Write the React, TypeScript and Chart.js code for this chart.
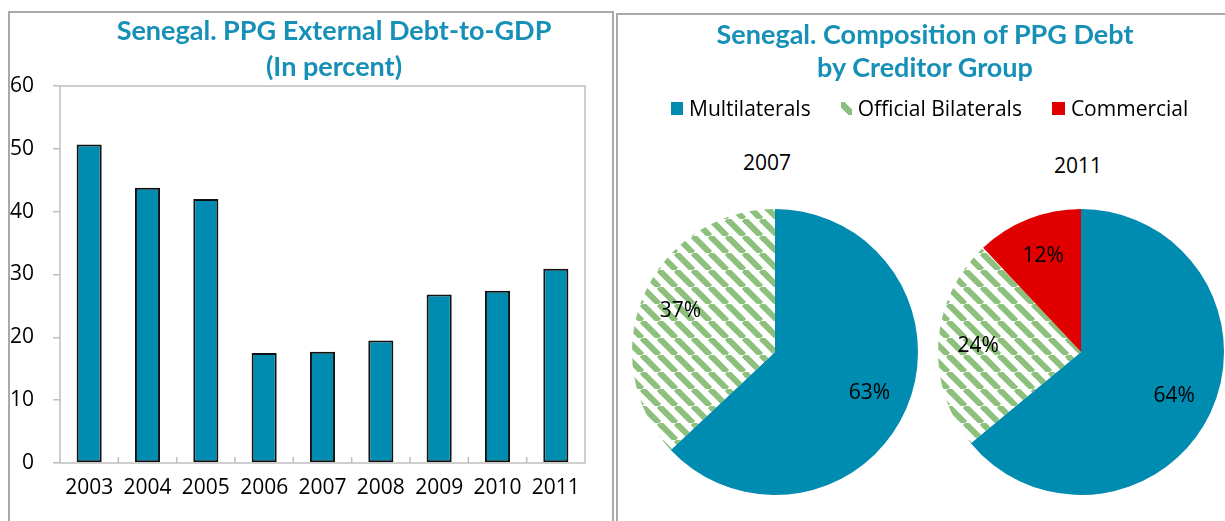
import React, { useEffect, useRef } from "react";
import { Chart, registerables } from "chart.js";

Chart.register(...registerables);

// ---- data ----
const years = ["2003", "2004", "2005", "2006", "2007", "2008", "2009", "2010", "2011"];
const debtToGdp = [50.7, 43.8, 42.0, 17.5, 17.7, 19.5, 26.8, 27.4, 30.9];
const yTickValues = [0, 10, 20, 30, 40, 50, 60];
const creditorGroups = ["Multilaterals", "Official Bilaterals", "Commercial"];
const pieYears = ["2007", "2011"];
const share2007 = [63, 37, 0];
const share2011 = [64, 24, 12];

const TEAL = "#008bb0";
const GREEN = "#8cc07c";
const RED = "#e00000";
const TITLE = "#1690b6";
const FONT = '"Open Sans", "Noto Sans", sans-serif';
const TITLE_FONT = 'Lato, "Open Sans", sans-serif';

function makeStripePattern(): CanvasPattern | string {
  const P = 17;
  const c = document.createElement("canvas");
  c.width = P;
  c.height = P;
  const g = c.getContext("2d");
  if (!g) return GREEN;
  g.fillStyle = "#ffffff";
  g.fillRect(0, 0, P, P);
  g.strokeStyle = GREEN;
  g.lineWidth = 6;
  for (let k = -1; k <= 1; k++) {
    g.beginPath();
    g.moveTo(k * P, 0);
    g.lineTo(k * P + P, P);
    g.stroke();
  }
  const pat = g.createPattern(c, "repeat");
  return pat || GREEN;
}

const framePlugin = {
  id: "plotFrame",
  afterDatasetsDraw(chart: any) {
    const { ctx, chartArea: a, scales } = chart;
    const x = scales.x;
    ctx.save();
    ctx.strokeStyle = "#bfbfbf";
    ctx.lineWidth = 1.5;
    ctx.strokeRect(a.left, a.top, a.right - a.left, a.bottom - a.top);
    const n = chart.data.labels.length;
    ctx.beginPath();
    for (let i = 1; i < n; i++) {
      const px = (x.getPixelForValue(i - 1) + x.getPixelForValue(i)) / 2;
      ctx.moveTo(px, a.bottom);
      ctx.lineTo(px, a.bottom - 6);
    }
    ctx.stroke();
    ctx.restore();
  },
};

const pctPlugin = {
  id: "pctLabels",
  afterDatasetsDraw(chart: any) {
    const { ctx } = chart;
    const meta = chart.getDatasetMeta(0);
    const data = chart.data.datasets[0].data as number[];
    ctx.save();
    ctx.font = `21px ${FONT}`;
    ctx.fillStyle = "#000";
    ctx.textAlign = "center";
    ctx.textBaseline = "middle";
    meta.data.forEach((arc: any, i: number) => {
      const v = data[i];
      if (!v) return;
      const p = arc.getProps(["x", "y", "startAngle", "endAngle", "outerRadius"], true);
      const mid = (p.startAngle + p.endAngle) / 2;
      const r = p.outerRadius * 0.72;
      ctx.fillText(`${v}%`, p.x + Math.cos(mid) * r, p.y + Math.sin(mid) * r);
    });
    ctx.restore();
  },
};

function BarChart() {
  const ref = useRef<HTMLCanvasElement>(null);
  useEffect(() => {
    if (!ref.current) return;
    const chart = new Chart(ref.current, {
      type: "bar",
      data: {
        labels: years,
        datasets: [
          {
            data: debtToGdp,
            backgroundColor: TEAL,
            borderColor: "#111",
            borderWidth: 2,
            borderSkipped: false,
            barPercentage: 0.43,
            categoryPercentage: 1,
          },
        ],
      },
      options: {
        animation: false,
        responsive: false,
        maintainAspectRatio: false,
        layout: { padding: { left: 0, right: 25, top: 73, bottom: 0 } },
        plugins: {
          legend: { display: false },
          title: { display: false },
          tooltip: { enabled: false },
        },
        scales: {
          x: {
            grid: { display: false, drawTicks: false },
            border: { display: false },
            ticks: {
              font: { family: FONT, size: 21 },
              color: "#000",
              padding: 12,
              maxRotation: 0,
              autoSkip: false,
            },
            afterFit: (s: any) => {
              s.height = 58;
            },
          },
          y: {
            min: 0,
            max: 60,
            afterBuildTicks: (s: any) => {
              s.ticks = yTickValues.map((v) => ({ value: v }));
            },
            ticks: {
              font: { family: FONT, size: 21 },
              color: "#000",
              padding: 19,
            },
            grid: {
              drawOnChartArea: false,
              drawTicks: true,
              tickLength: 7,
              color: "#bfbfbf",
              lineWidth: 1.5,
            },
            border: { display: false },
            afterFit: (s: any) => {
              s.width = 50;
            },
          },
        },
      },
      plugins: [framePlugin],
    });
    return () => chart.destroy();
  }, []);
  return <canvas ref={ref} width={600} height={508} style={{ position: "absolute", left: 10, top: 13 }} />;
}

function PieChart({ values, left, top }: { values: number[]; left: number; top: number }) {
  const ref = useRef<HTMLCanvasElement>(null);
  useEffect(() => {
    if (!ref.current) return;
    const pattern = makeStripePattern();
    const chart = new Chart(ref.current, {
      type: "pie",
      data: {
        labels: creditorGroups,
        datasets: [
          {
            data: values,
            backgroundColor: [TEAL, pattern as any, RED],
            borderWidth: 0,
            hoverOffset: 0,
            offset: 0,
          },
        ],
      },
      options: {
        animation: false,
        responsive: false,
        maintainAspectRatio: false,
        layout: { padding: 7 },
        plugins: {
          legend: { display: false },
          title: { display: false },
          tooltip: { enabled: false },
        },
      },
      plugins: [pctPlugin],
    });
    return () => chart.destroy();
  }, [values]);
  return <canvas ref={ref} width={300} height={300} style={{ position: "absolute", left, top }} />;
}

const legendSwatches = [
  { background: TEAL, width: 12, height: 13 },
  {
    background: `linear-gradient(45deg, transparent 30%, ${GREEN} 30%, ${GREEN} 70%, transparent 70%)`,
    width: 11,
    height: 13,
  },
  { background: RED, width: 13, height: 13 },
];

export default function App() {
  return (
    <div
      style={{
        position: "absolute",
        left: 0,
        top: 0,
        width: 1225,
        height: 521,
        overflow: "hidden",
        background: "#fff",
        fontFamily: FONT,
      }}
    >
      {/* left panel frame */}
      <div
        style={{
          position: "absolute",
          left: 8,
          top: 11,
          width: 602,
          height: 540,
          border: "2px solid #a9a9a9",
          borderBottom: "none",
        }}
      />
      {/* right panel frame */}
      <div
        style={{
          position: "absolute",
          left: 616,
          top: 13,
          width: 640,
          height: 540,
          border: "2px solid #a9a9a9",
          borderBottom: "none",
          borderRight: "none",
        }}
      />
      <BarChart />
      <div
        style={{
          position: "absolute",
          left: 34,
          top: 12,
          width: 600,
          textAlign: "center",
          color: TITLE,
          fontFamily: TITLE_FONT,
          fontWeight: 700,
          fontSize: 27,
          lineHeight: "36px",
        }}
      >
        Senegal. PPG External Debt-to-GDP
        <br />
        (In percent)
      </div>
      <div
        style={{
          position: "absolute",
          left: 625,
          top: 17,
          width: 600,
          textAlign: "center",
          color: TITLE,
          fontFamily: TITLE_FONT,
          fontWeight: 700,
          fontSize: 27,
          lineHeight: "33px",
        }}
      >
        Senegal. Composition of PPG Debt
        <br />
        by Creditor Group
      </div>
      <div
        style={{
          position: "absolute",
          left: 671,
          top: 94,
          display: "flex",
          alignItems: "center",
          fontSize: 21,
          lineHeight: "28px",
          color: "#000",
          whiteSpace: "nowrap",
        }}
      >
        {creditorGroups.map((g, i) => (
          <div key={g} style={{ display: "flex", alignItems: "center", marginRight: 30 }}>
            <span
              style={{
                display: "inline-block",
                width: legendSwatches[i].width,
                height: legendSwatches[i].height,
                background: legendSwatches[i].background,
                marginRight: 6,
              }}
            />
            <span>{g}</span>
          </div>
        ))}
      </div>
      <div
        style={{ position: "absolute", left: 717, top: 148, width: 100, textAlign: "center", fontSize: 21, lineHeight: "28px" }}
      >
        {pieYears[0]}
      </div>
      <div
        style={{ position: "absolute", left: 1028, top: 151, width: 100, textAlign: "center", fontSize: 21, lineHeight: "28px" }}
      >
        {pieYears[1]}
      </div>
      <PieChart values={share2007} left={625} top={202} />
      <PieChart values={share2011} left={931} top={202} />
    </div>
  );
}
